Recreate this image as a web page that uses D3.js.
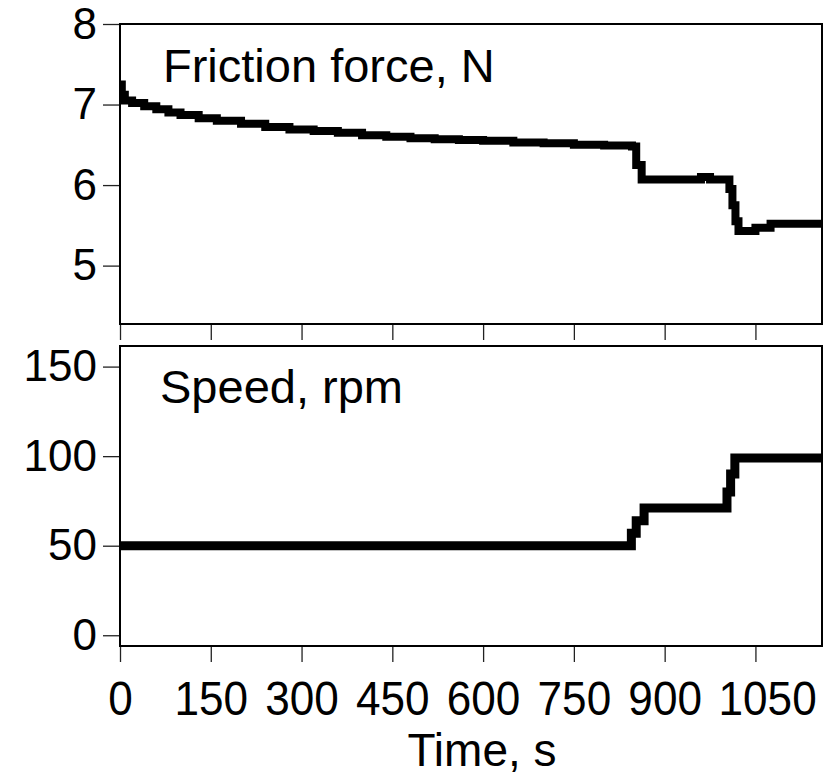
<!DOCTYPE html>
<html>
<head>
<meta charset="utf-8">
<script src="https://cdn.jsdelivr.net/npm/d3@7"></script>
<style>
  html, body { margin: 0; padding: 0; background: #fff; }
  svg { display: block; font-family: "Liberation Sans", Arial, sans-serif; }
</style>
</head>
<body>
<svg id="chart" width="837" height="779"></svg>
<script>
// ---- data ----
const xTicks = [0, 150, 300, 450, 600, 750, 900, 1050];
const forceTicks = [5, 6, 7, 8];
const speedTicks = [0, 50, 100, 150];

const forceTime = [0, 3, 8, 20, 40, 60, 80, 100, 130, 160, 200, 240, 280, 320, 360, 400, 440, 480, 520, 560, 600, 650, 700, 750, 800, 846, 853, 862, 960, 975, 1007, 1012, 1017, 1022, 1050, 1075, 1160];
const forceVal  = [7.25, 7.12, 7.05, 7.02, 6.98, 6.94, 6.90, 6.87, 6.83, 6.80, 6.76, 6.72, 6.69, 6.67, 6.65, 6.62, 6.60, 6.58, 6.57, 6.56, 6.55, 6.53, 6.52, 6.50, 6.49, 6.48, 6.25, 6.07, 6.10, 6.07, 5.95, 5.75, 5.55, 5.43, 5.47, 5.52, 5.52];

const speedTime = [0, 845, 853, 866, 1003, 1009, 1016, 1160];
const speedVal  = [50, 57, 64, 71, 80, 90, 99, 99];

const topLabel = "Friction force, N";
const bottomLabel = "Speed, rpm";
const xLabel = "Time, s";

// ---- layout ----
const svg = d3.select("#chart");
const left = 120, right = 822;
const topPanel = {y0: 24, y1: 324};
const botPanel = {y0: 346, y1: 646};

const x = d3.scaleLinear().domain([0, 1160]).range([left, right]);
const yF = d3.scaleLinear().domain([4.275, 8]).range([topPanel.y1, topPanel.y0]);
const yS = d3.scaleLinear().domain([-6, 161.5]).range([botPanel.y1, botPanel.y0]);

function styleAxis(g) {
  g.select(".domain").remove();
  g.selectAll(".tick line").attr("stroke", "#222").attr("stroke-width", 1.3);
  g.selectAll(".tick text").attr("fill", "#000");
}

// y axes
svg.append("g").attr("transform", `translate(${left},0)`)
  .call(d3.axisLeft(yF).tickValues(forceTicks).tickFormat(d3.format("d")).tickSize(17).tickPadding(6))
  .call(styleAxis)
  .selectAll(".tick text").style("font-size", "44px");

svg.append("g").attr("transform", `translate(${left},0)`)
  .call(d3.axisLeft(yS).tickValues(speedTicks).tickFormat(d3.format("d")).tickSize(17).tickPadding(6))
  .call(styleAxis)
  .selectAll(".tick text").style("font-size", "44px");

// x axes
svg.append("g").attr("transform", `translate(0,${topPanel.y1})`)
  .call(d3.axisBottom(x).tickValues(xTicks).tickFormat("").tickSize(16))
  .call(styleAxis);

const xb = svg.append("g").attr("transform", `translate(0,${botPanel.y1})`)
  .call(d3.axisBottom(x).tickValues(xTicks).tickFormat(d3.format("d")).tickSize(16).tickPadding(18))
  .call(styleAxis);
xb.selectAll(".tick text")
  .style("font-size", "49px")
  .attr("transform", "scale(0.9,1)");
xb.selectAll(".tick text").filter(d => d === 1050).attr("dx", 13);

// lines
const lineF = d3.line().x((d, i) => x(forceTime[i])).y(d => yF(d)).curve(d3.curveStepAfter);
const lineS = d3.line().x((d, i) => x(speedTime[i])).y(d => yS(d)).curve(d3.curveStepAfter);

svg.append("defs").append("clipPath").attr("id", "clipTop")
  .append("rect").attr("x", left).attr("y", topPanel.y0).attr("width", right - left).attr("height", topPanel.y1 - topPanel.y0);
svg.select("defs").append("clipPath").attr("id", "clipBot")
  .append("rect").attr("x", left).attr("y", botPanel.y0).attr("width", right - left).attr("height", botPanel.y1 - botPanel.y0);

svg.append("path").datum(forceVal)
  .attr("d", lineF).attr("fill", "none").attr("stroke", "#000")
  .attr("stroke-width", 8).attr("stroke-linejoin", "miter").attr("stroke-linecap", "square")
  .attr("clip-path", "url(#clipTop)");

svg.append("path").datum(speedVal)
  .attr("d", lineS).attr("fill", "none").attr("stroke", "#000")
  .attr("stroke-width", 9).attr("stroke-linejoin", "miter").attr("stroke-linecap", "square")
  .attr("clip-path", "url(#clipBot)");

// frames
[topPanel, botPanel].forEach(p => {
  svg.append("rect")
    .attr("x", left).attr("y", p.y0)
    .attr("width", right - left).attr("height", p.y1 - p.y0)
    .attr("fill", "none").attr("stroke", "#000").attr("stroke-width", 2);
});

// panel labels
svg.append("text").attr("x", 163).attr("y", 82)
  .style("font-size", "47px").attr("fill", "#000").text(topLabel);
svg.append("text").attr("x", 160).attr("y", 403)
  .style("font-size", "47px").attr("fill", "#000").text(bottomLabel);

// x axis title
svg.append("text").attr("x", 482).attr("y", 766)
  .attr("text-anchor", "middle")
  .style("font-size", "46px").attr("fill", "#000").text(xLabel);
</script>
</body>
</html>
